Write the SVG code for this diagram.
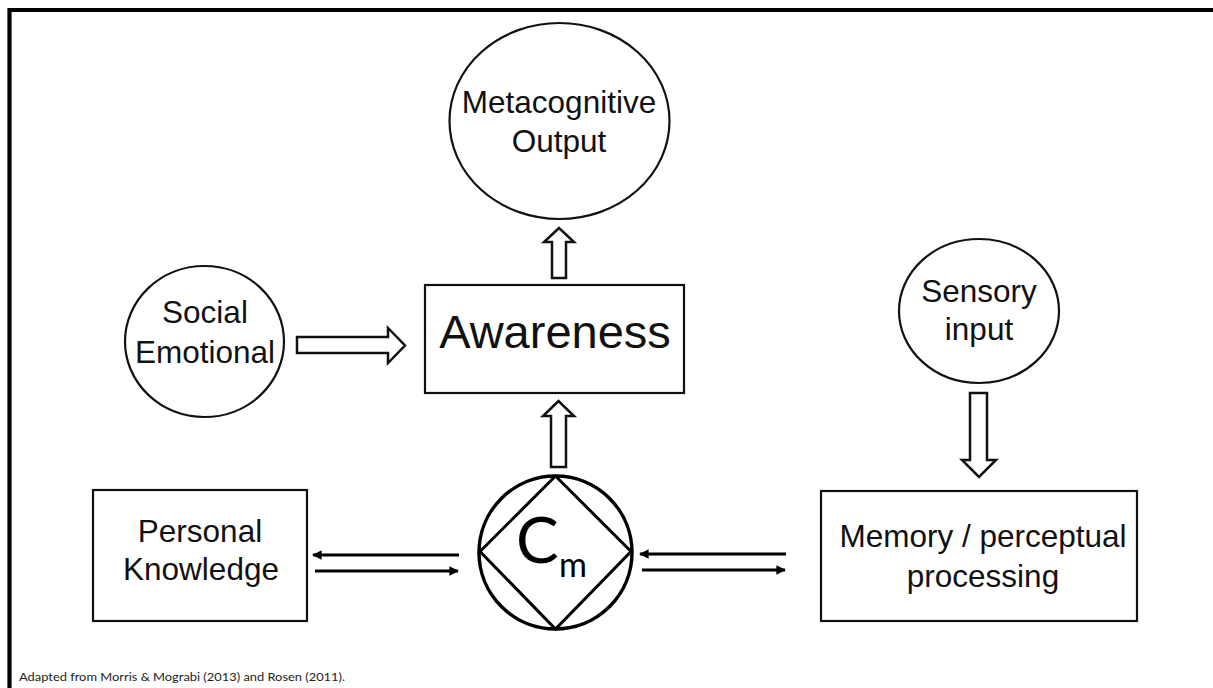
<svg xmlns="http://www.w3.org/2000/svg" width="1213" height="688" viewBox="0 0 1213 688">
<defs>
<style>
.lbl{font-family:"Liberation Sans",Arial,sans-serif;font-size:31.5px;fill:#111;text-anchor:middle}
.node{fill:#fff;stroke:#111;stroke-width:2.2}
.hollow{fill:#fff;stroke:#111;stroke-width:2.5;stroke-linejoin:miter}
.thin{stroke:#000;stroke-width:3;fill:none}
</style>
<marker id="ah" viewBox="0 0 10 10" refX="9" refY="5" markerWidth="4" markerHeight="3.2" orient="auto" markerUnits="strokeWidth">
<path d="M0,0 L10,5 L0,10 Z" fill="#000"/>
</marker>
</defs>
<rect width="1213" height="688" fill="#fff"/>
<path d="M9.5,688 V10 H1213" fill="none" stroke="#000" stroke-width="4.2"/>

<g id="metacognitive-output">
<ellipse class="node" cx="559.5" cy="121" rx="110" ry="98"/>
<text class="lbl" x="559" y="113">Metacognitive</text>
<text class="lbl" x="559" y="152">Output</text>
</g>

<g id="awareness">
<rect class="node" x="425" y="285" width="259" height="108" stroke-width="2.5"/>
<text class="lbl" x="555" y="348" style="font-size:47px">Awareness</text>
</g>

<g id="social-emotional">
<ellipse class="node" cx="204.5" cy="341.5" rx="79.5" ry="75.5"/>
<text class="lbl" x="205" y="323">Social</text>
<text class="lbl" x="205" y="363">Emotional</text>
</g>

<g id="sensory-input">
<ellipse class="node" cx="979" cy="311" rx="80" ry="72"/>
<text class="lbl" x="979" y="302">Sensory</text>
<text class="lbl" x="979" y="340">input</text>
</g>

<g id="personal-knowledge">
<rect class="node" x="93" y="490" width="214" height="131"/>
<text class="lbl" x="200" y="542">Personal</text>
<text class="lbl" x="201" y="580">Knowledge</text>
</g>

<g id="memory-perceptual">
<rect class="node" x="821" y="491" width="316" height="130"/>
<text class="lbl" x="983" y="547">Memory / perceptual</text>
<text class="lbl" x="983" y="587">processing</text>
</g>

<g id="cm">
<circle cx="555.5" cy="552.5" r="76.5" fill="#fff" stroke="#000" stroke-width="3.5"/>
<polygon points="555.5,476 480,551.5 555.5,629 631,551.5" fill="none" stroke="#000" stroke-width="3"/>
<text x="516" y="563" style="font-family:Lato,'Open Sans',sans-serif;font-size:64px;fill:#000">C</text>
<text x="559" y="577" style="font-family:Lato,'Open Sans',sans-serif;font-size:34px;fill:#000">m</text>
</g>

<g id="connectors">
<polygon class="hollow" points="552,278 552,242 544,242 559,228 574,242 566,242 566,278"/>
<polygon class="hollow" points="551,467 551,416 543,416 558.5,401 574,416 566,416 566,467"/>
<polygon class="hollow" points="297,337 388,337 388,328 405,345.5 388,363 388,353 297,353"/>
<polygon class="hollow" points="970,393 987,393 987,460 996,460 979,477 962,460 970,460"/>
<line class="thin" x1="459" y1="555" x2="313" y2="555" marker-end="url(#ah)"/>
<line class="thin" x1="315" y1="571" x2="458" y2="571" marker-end="url(#ah)"/>
<line class="thin" x1="786" y1="554" x2="640" y2="554" marker-end="url(#ah)"/>
<line class="thin" x1="642" y1="570" x2="785" y2="570" marker-end="url(#ah)"/>
</g>

<text x="19" y="681" textLength="326" lengthAdjust="spacingAndGlyphs" style="font-family:Lato,'Open Sans',sans-serif;font-size:12px;fill:#222">Adapted from Morris &amp; Mograbi (2013) and Rosen (2011).</text>
</svg>
